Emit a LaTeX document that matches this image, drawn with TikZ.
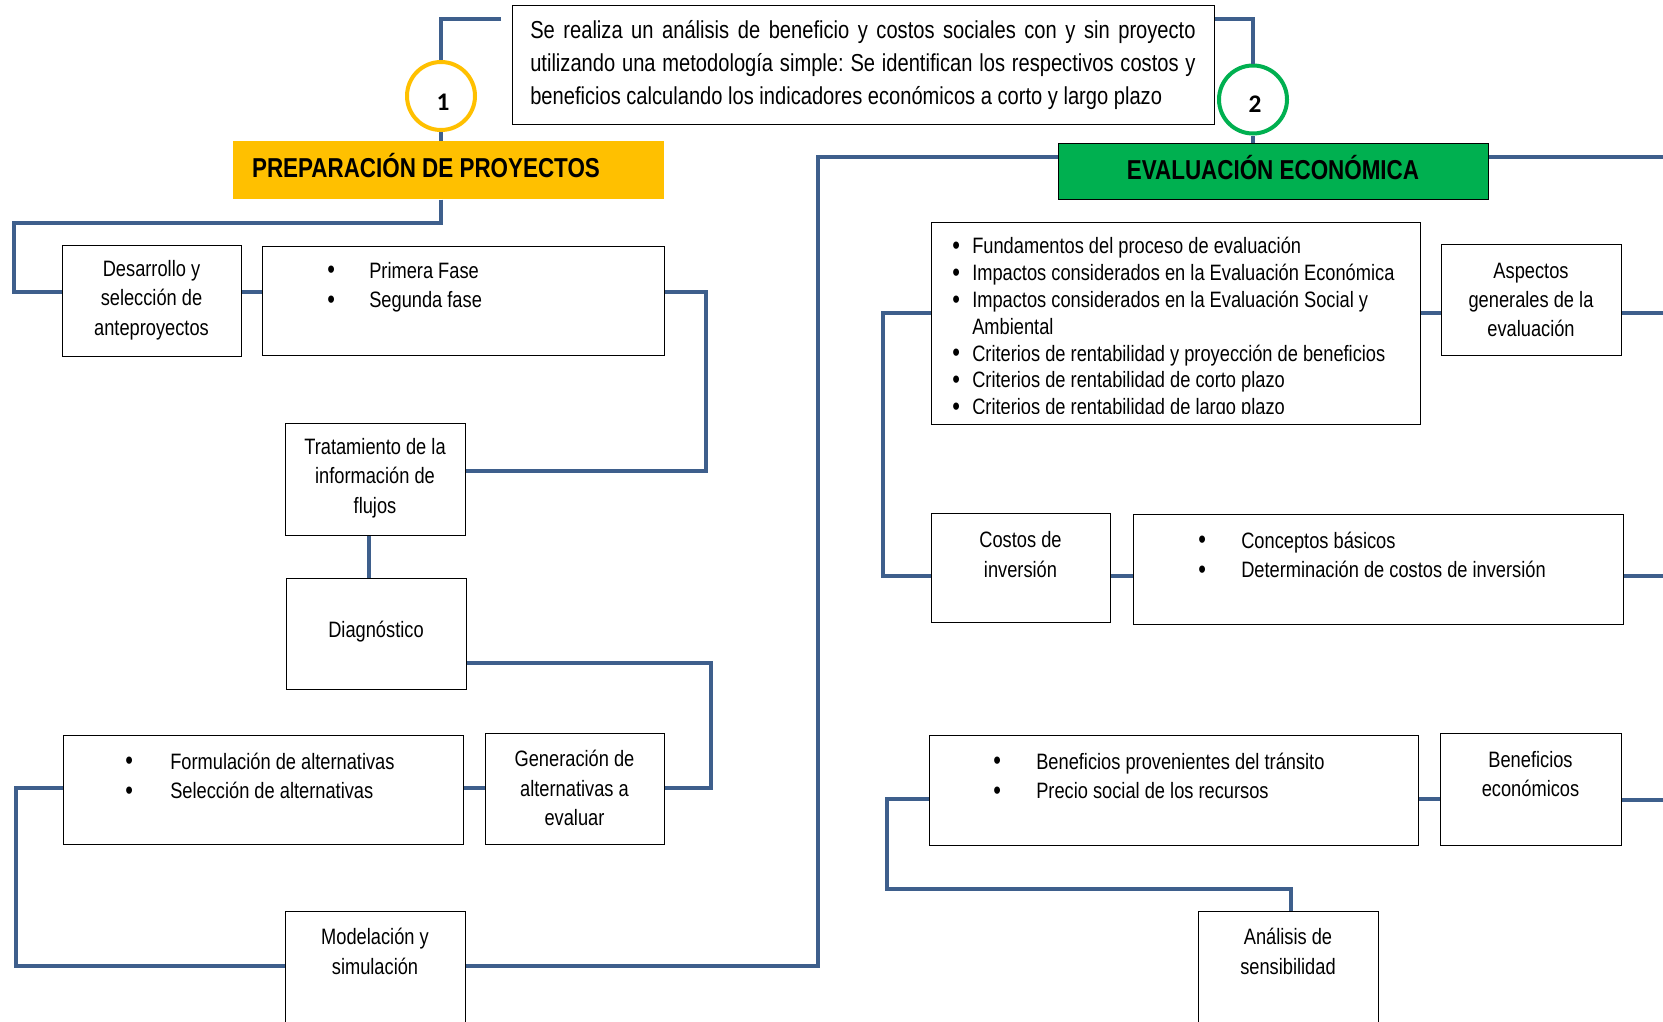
\documentclass[tikz,border=0pt]{standalone}
\usepackage{fontspec}
\setmainfont{Liberation Sans}[FakeStretch=0.82]
\newfontfamily\numfont{Carlito}
\definecolor{linkblue}{RGB}{62,95,140}
\definecolor{prepyellow}{RGB}{255,192,0}
\definecolor{evalgreen}{RGB}{0,176,80}
\newcommand\bulitem[2]{\makebox[#1][l]{\raisebox{-0.5pt}{\fontsize{20}{20}\selectfont\textbullet}}#2}
\frenchspacing
\begin{document}
\begin{tikzpicture}[x=0.75pt,y=-0.75pt,
  conn/.style={draw=linkblue, line width=3.2pt},
  cbox/.style 2 args={draw=black, line width=1.1pt, fill=white, anchor=north west,
    inner sep=0pt, minimum width={#1*0.75pt}, minimum height={#2*0.75pt}},
  txt/.style={inner sep=0pt, align=center, font=\fontsize{16.7}{22}\selectfont},
  list/.style={inner sep=0pt, anchor=west, align=left, font=\fontsize{16.7}{22}\selectfont},
  ring/.style={circle, line width=3pt, minimum size=51pt, inner sep=0pt, fill=white},
  num/.style={inner sep=0pt, font=\numfont\bfseries\fontsize{19}{20}\selectfont},
  title/.style={inner sep=0pt, font=\bfseries\fontsize{20.5}{24}\selectfont},
]
\useasboundingbox (0,0) rectangle (1663,1021);
\fill[white] (0,0) rectangle (1663,1021);
\coordinate (edge) at (1663,0);
\coordinate (topl) at (501,19);

% summary box at the top
\node[cbox={702}{119}] (top) at (512,5) {};
\node[anchor=west, inner sep=0pt, text width=499pt, align=justify,
      font=\fontsize{18.4}{24.8}\selectfont] (t-top) at (530,65)
  {Se realiza un análisis de beneficio y costos sociales con y sin proyecto\linebreak
   utilizando una metodología simple: Se identifican los respectivos costos y\linebreak
   beneficios calculando los indicadores económicos a corto y largo plazo};

% numbered rings
\node[ring, draw=prepyellow] (c1) at (441,96) {};
\node[num] (n1) at (443,102) {1};
\node[ring, draw=evalgreen] (c2) at (1253,99.5) {};
\node[num] (n2) at (1255,104) {2};

% section headers
\node[fill=prepyellow, anchor=north west, inner sep=0pt,
      minimum width={431*0.75pt}, minimum height={58*0.75pt}] (prep) at (233,141) {};
\node[title] (t-prep) at (426,166) {PREPARACIÓN DE PROYECTOS};
\node[cbox={430}{56}, fill=evalgreen] (eval) at (1058,143) {};
\node[title] (t-eval) at (1273,168) {EVALUACIÓN ECONÓMICA};

% left branch
\node[cbox={179}{111}] (desarrollo) at (62,245) {};
\node[txt] (t-desarrollo) at (151.5,300) {Desarrollo y\\selección de\\anteproyectos};
\node[cbox={402}{109}] (fase) at (262,246) {};
\node[list] (t-fase) at (327,287) {\bulitem{31.5pt}{Primera Fase}\\\bulitem{31.5pt}{Segunda fase}};
\node[cbox={180}{112}] (trat) at (285,423) {};
\node[txt] (t-trat) at (375,478) {Tratamiento de la\\información de\\flujos};
\node[cbox={180}{111}] (diag) at (286,578) {};
\node[txt] (t-diag) at (376,632) {Diagnóstico};
\node[cbox={179}{111}] (gen) at (485,733) {};
\node[txt] (t-gen) at (574.5,788) {Generación de\\alternativas a\\evaluar};
\node[cbox={400}{109}] (form) at (63,735) {};
\node[list] (t-form) at (125,776) {\bulitem{33.75pt}{Formulación de alternativas}\\\bulitem{33.75pt}{Selección de alternativas}};
\node[cbox={180}{130}] (model) at (285,911) {};
\node[txt] (t-model) at (375,951.5) {Modelación y\\simulación};

% right branch
\node[cbox={489}{202}] (fund) at (931,222) {};
\begin{scope}
  \clip (931,222) rectangle (1420,413);
  \node[list, font=\fontsize{16.7}{20.1}\selectfont] (t-fund) at (952,328.5)
    {\bulitem{15pt}{Fundamentos del proceso de evaluación}\\
     \bulitem{15pt}{Impactos considerados en la Evaluación Económica}\\
     \bulitem{15pt}{Impactos considerados en la Evaluación Social y}\\
     \hspace*{15pt}Ambiental\\
     \bulitem{15pt}{Criterios de rentabilidad y proyección de beneficios}\\
     \bulitem{15pt}{Criterios de rentabilidad de corto plazo}\\
     \bulitem{15pt}{Criterios de rentabilidad de largo plazo}};
\end{scope}
\node[cbox={180}{111}] (asp) at (1441,244) {};
\node[txt] (t-asp) at (1531,300) {Aspectos\\generales de la\\evaluación};
\node[cbox={179}{109}] (costos) at (931,513) {};
\node[txt] (t-costos) at (1020.5,554.5) {Costos de\\inversión};
\node[cbox={490}{110}] (conc) at (1133,514) {};
\node[list] (t-conc) at (1198,555) {\bulitem{32.25pt}{Conceptos básicos}\\\bulitem{32.25pt}{Determinación de costos de inversión}};
\node[cbox={489}{110}] (benef) at (929,735) {};
\node[list] (t-benef) at (993,776) {\bulitem{32.25pt}{Beneficios provenientes del tránsito}\\\bulitem{32.25pt}{Precio social de los recursos}};
\node[cbox={181}{112}] (beneco) at (1440,733) {};
\node[txt] (t-beneco) at (1530.5,774) {Beneficios\\económicos};
\node[cbox={180}{130}] (anal) at (1198,911) {};
\node[txt] (t-anal) at (1288,951.5) {Análisis de\\sensibilidad};

% connectors
\draw[conn] (topl) -| (c1.north);
\draw[conn] (top.east |- 0,19) -| (c2.north);
\draw[conn] (c1.south) -- (c1.south |- prep.north);
\draw[conn] (c2.south) -- (c2.south |- eval.north);
\draw[conn] (prep.south -| 441,0) -- (441,223) -- (14,223) -- (14,292) -- (desarrollo.west |- 0,292);
\draw[conn] (desarrollo.east |- 0,292) -- (fase.west |- 0,292);
\draw[conn] (fase.east |- 0,292) -- (706,292) -- (706,471) -- (trat.east |- 0,471);
\draw[conn] (trat.south -| 369,0) -- (diag.north -| 369,0);
\draw[conn] (diag.east |- 0,663) -- (711,663) -- (711,788) -- (gen.east |- 0,788);
\draw[conn] (gen.west |- 0,788) -- (form.east |- 0,788);
\draw[conn] (form.west |- 0,788) -- (16,788) -- (16,966) -- (model.west |- 0,966);
\draw[conn] (model.east |- 0,966) -- (818,966) -- (818,157) -- (eval.west |- 0,157);
\draw[conn] (eval.east |- 0,157) -- (edge |- 0,157);
\draw[conn] (fund.west |- 0,313) -- (883,313) -- (883,576) -- (costos.west |- 0,576);
\draw[conn] (fund.east |- 0,313) -- (asp.west |- 0,313);
\draw[conn] (asp.east |- 0,313) -- (edge |- 0,313);
\draw[conn] (costos.east |- 0,576) -- (conc.west |- 0,576);
\draw[conn] (conc.east |- 0,576) -- (edge |- 0,576);
\draw[conn] (benef.east |- 0,799) -- (beneco.west |- 0,799);
\draw[conn] (beneco.east |- 0,800) -- (edge |- 0,800);
\draw[conn] (benef.west |- 0,799) -- (887,799) -- (887,889) -- (1291,889) -- (anal.north -| 1291,0);
\end{tikzpicture}
\end{document}
